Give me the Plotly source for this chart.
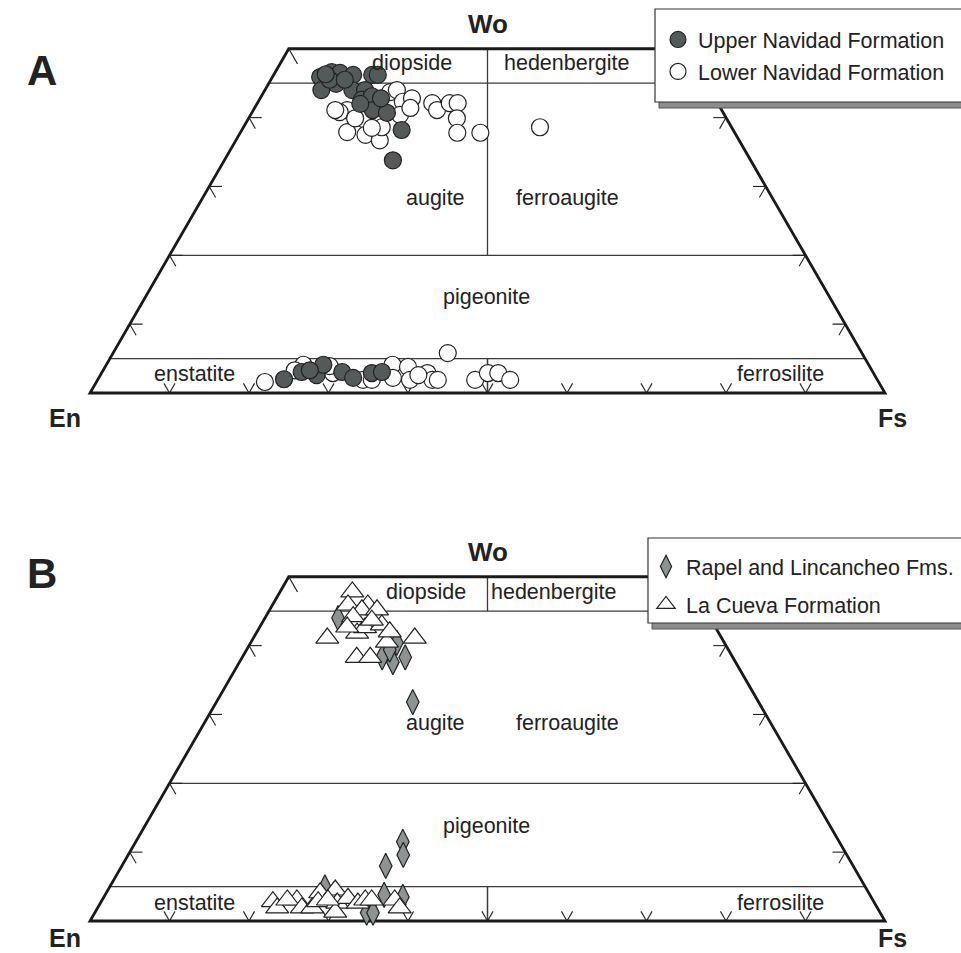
import math
import plotly.graph_objects as go

# ---------------------------------------------------------------------------
# Pyroxene compositions in mol% : Wo and Fs (En = 100 - Wo - Fs)
# ---------------------------------------------------------------------------
# A - Navidad Formation
upper_wo = [45.9, 46.6, 46.5, 44.0, 44.9, 45.5, 46.2, 44.0, 46.2, 46.2, 44.0,
            42.6, 43.1, 41.1, 40.7, 38.2, 33.8, 45.5, 42.0, 42.8, 46.3,
            2.0, 3.05, 2.6, 4.1, 3.05, 2.2, 2.9, 3.05, 3.3]
upper_fs = [6.0, 7.1, 8.2, 7.1, 8.5, 7.4, 10.0, 11.0, 12.4, 13.1, 12.6,
            12.9, 13.9, 15.0, 17.0, 20.1, 21.2, 9.3, 13.0, 15.2, 6.5,
            23.4, 25.1, 27.2, 27.3, 30.2, 32.0, 34.0, 35.2, 26.0]

lower_wo = [41.1, 40.8, 37.9, 39.7, 37.5, 36.7, 38.6, 43.7, 44.0, 42.3, 42.8,
            42.1, 41.1, 42.1, 42.1, 39.9, 37.8, 37.8, 38.6, 41.1, 40.4, 39.9,
            38.5, 41.4,
            1.6, 4.1, 2.9, 1.9, 4.1, 2.2, 3.8, 1.9, 2.9, 1.9, 1.9, 5.8, 1.9,
            2.9, 2.9, 1.9, 3.3, 3.9, 1.9, 2.6]
lower_fs = [11.8, 11.0, 13.4, 14.7, 15.9, 18.1, 17.4, 15.9, 16.6, 18.2, 19.1,
            22.0, 23.1, 24.2, 25.2, 26.2, 27.3, 30.2, 37.3, 10.3, 18.8, 13.4,
            16.2, 19.6,
            21.2, 24.8, 29.1, 33.4, 36.0, 37.0, 38.1, 39.3, 41.0, 42.1, 42.8,
            42.1, 47.5, 48.6, 49.9, 51.9, 24.1, 28.2, 34.5, 40.0]

# B - Rapel / Lincancheo and La Cueva formations
rapel_wo = [44.0, 40.4, 38.3, 37.6, 38.3, 31.8, 39.4,
            11.5, 9.6, 8.0, 3.8, 3.5, 4.9, 1.2, 1.2]
rapel_fs = [9.2, 18.4, 17.6, 19.3, 20.5, 24.7, 18.0,
            33.6, 34.6, 33.2, 35.1, 37.6, 27.1, 34.2, 35.0]

cueva_wo = [47.8, 45.9, 45.9, 45.2, 45.2, 41.1, 41.8, 42.6, 43.0, 40.5, 41.1,
            38.3, 38.3, 44.2, 42.7, 43.7, 42.0,
            2.8, 1.9, 3.05, 3.05, 1.9, 1.9, 4.1, 2.8, 4.5, 2.6, 1.3, 3.3, 2.6,
            3.05, 3.05, 3.05, 1.9, 3.05]
cueva_fs = [9.1, 12.0, 9.5, 11.6, 13.5, 9.3, 12.7, 13.3, 15.2, 17.1, 20.3,
            14.4, 16.1, 11.0, 11.0, 13.6, 16.7,
            21.6, 22.6, 24.5, 23.3, 25.7, 27.0, 26.9, 27.3, 28.6, 29.8, 30.2,
            30.8, 32.4, 33.1, 33.9, 36.8, 38.0, 28.4]

# Field boundaries (Wo %) and tick positions
field_wo = [5, 20, 45]
tick_fs = [10, 20, 30, 40, 50, 60, 70, 80, 90]
tick_wo = [10, 20, 30, 40]

FONT = "Liberation Sans"
INK = "#222222"
H = math.sqrt(3) / 2


def to_xy(wo, fs):
    """Wo-En-Fs composition -> cartesian position in the En-Fs-Wo triangle."""
    return [f + w / 2 for w, f in zip(wo, fs)], [w * H for w in wo]


def diagram_shapes(xr, yr, divider_from):
    top = 50 * H
    shapes = []
    line = lambda x0, y0, x1, y1, w, c=INK: dict(
        type="line", xref=xr, yref=yr, x0=x0, y0=y0, x1=x1, y1=y1,
        line=dict(color=c, width=w), layer="below")
    # inner field boundaries
    for wo in field_wo:
        shapes.append(line(wo / 2, wo * H, 100 - wo / 2, wo * H, 1.3, "#3a3a3a"))
    shapes.append(line(50, divider_from * H, 50, top, 1.3, "#3a3a3a"))
    shapes.append(line(50, 0, 50, 5 * H, 1.5, "#3a3a3a"))
    # tick marks
    tb, ts = 1.4, 1.6
    for f in tick_fs:
        shapes.append(line(f, 0, f - 0.5 * tb, H * tb, 1.1))
        shapes.append(line(f, 0, f + 0.5 * tb, H * tb, 1.1))
    for wo in tick_wo:
        xl, xr_ = wo / 2, 100 - wo / 2
        y = wo * H
        shapes.append(line(xl, y, xl + ts, y, 1.1))
        shapes.append(line(xl, y, xl + 0.5 * ts, y - H * ts, 1.1))
        shapes.append(line(xr_, y, xr_ - ts, y, 1.1))
        shapes.append(line(xr_, y, xr_ - 0.5 * ts, y - H * ts, 1.1))
    tc = 2.2
    shapes.append(line(25, top, 25 + 0.5 * tc, top - H * tc, 1.1))
    shapes.append(line(75, top, 75 - 0.5 * tc, top - H * tc, 1.1))
    # outline of the quadrilateral
    shapes.append(dict(type="path", xref=xr, yref=yr,
                       path=f"M 0,0 L 100,0 L 75,{top} L 25,{top} Z",
                       line=dict(color="#1a1a1a", width=2.8), layer="below"))
    return shapes


def field_labels(xr, yr, pos):
    out = []
    for text, (x, y) in pos.items():
        out.append(dict(text=text, x=x, y=y, xref=xr, yref=yr, showarrow=False,
                        font=dict(family=FONT, size=21.5, color=INK)))
    return out


fig = go.Figure()

ux, uy = to_xy(upper_wo, upper_fs)
lx, ly = to_xy(lower_wo, lower_fs)
rx, ry = to_xy(rapel_wo, rapel_fs)
cx, cy = to_xy(cueva_wo, cueva_fs)

fig.add_trace(go.Scatter(
    x=lx, y=ly, mode="markers", name="Lower Navidad Formation",
    xaxis="x", yaxis="y", legend="legend", legendgroup="l", legendrank=2,
    marker=dict(symbol="circle", size=17, color="white",
                line=dict(color=INK, width=1.2))))
fig.add_trace(go.Scatter(
    x=ux, y=uy, mode="markers", name="Upper Navidad Formation",
    xaxis="x", yaxis="y", legend="legend", legendgroup="u", legendrank=1,
    marker=dict(symbol="circle", size=17, color="#545a5a",
                line=dict(color=INK, width=1.2))))
fig.add_trace(go.Scatter(
    x=rx, y=ry, mode="markers", name="Rapel and Lincancheo Fms.",
    xaxis="x2", yaxis="y2", legend="legend2", legendgroup="r", legendrank=1,
    marker=dict(symbol="diamond-tall", size=18, color="#8d9393",
                line=dict(color=INK, width=1.2))))
fig.add_trace(go.Scatter(
    x=cx, y=cy, mode="markers", name="La Cueva Formation",
    xaxis="x2", yaxis="y2", legend="legend2", legendgroup="c", legendrank=2,
    marker=dict(symbol="triangle-up", size=20, color="white",
                line=dict(color=INK, width=1.2))))

shapes = diagram_shapes("x", "y", 20) + diagram_shapes("x2", "y2", 45)

# legend frames with drop shadow (pixel placement converted to paper units)
W, HT = 961, 953
px = lambda v: v / W
py = lambda v: 1 - v / HT
for (l, t, b) in [(655, 9, 102), (648, 538, 623)]:
    shapes.append(dict(type="rect", xref="paper", yref="paper",
                       x0=px(l + 4), x1=px(W + 5), y0=py(t + 6), y1=py(b + 6),
                       fillcolor="#8c8c8c", line=dict(color="#555", width=1),
                       layer="above"))
    shapes.append(dict(type="rect", xref="paper", yref="paper",
                       x0=px(l), x1=px(W + 2), y0=py(t), y1=py(b),
                       fillcolor="white", line=dict(color="#333", width=1.2),
                       layer="above"))

labels_a = {"diopside": (40.5, 41.5), "hedenbergite": (60.0, 41.5),
            "augite": (43.5, 24.5), "ferroaugite": (60.0, 24.5),
            "pigeonite": (49.9, 12.1), "enstatite": (13.2, 2.4),
            "ferrosilite": (86.8, 2.4)}
labels_b = {"diopside": (42.3, 41.4), "hedenbergite": (58.4, 41.4),
            "augite": (43.5, 24.9), "ferroaugite": (60.0, 24.9),
            "pigeonite": (49.9, 12.0), "enstatite": (13.2, 2.3),
            "ferrosilite": (86.8, 2.3)}

annotations = field_labels("x", "y", labels_a) + field_labels("x2", "y2", labels_b)
bold = lambda s: dict(family=FONT, size=s, color=INK, weight="bold")
for xr, yr in [("x", "y"), ("x2", "y2")]:
    annotations.append(dict(text="Wo", x=50, y=46.4, xref=xr, yref=yr,
                            showarrow=False, font=bold(26)))
# end-member labels below the base corners
corner_pos = [("x", "y", -3.2, "middle"), ("x2", "paper", 0, "bottom")]
for xr, yr, yc, anchor in corner_pos:
    for text, xc in [("En", -3.1), ("Fs", 101.0)]:
        annotations.append(dict(text=text, x=xc, y=yc, xref=xr, yref=yr,
                                yanchor=anchor, borderpad=0, showarrow=False,
                                font=bold(25)))
annotations.append(dict(text="A", x=px(25), y=py(45), xref="paper", yref="paper",
                        showarrow=False, font=bold(42)))
annotations.append(dict(text="B", x=px(25), y=py(573), xref="paper",
                        yref="paper", showarrow=False, font=bold(42)))

SCALE = 7.95  # px per composition unit
xr_ = [-90 / SCALE, (W - 90) / SCALE]
hidden = dict(visible=False, showgrid=False, zeroline=False, fixedrange=True)

legend_style = dict(xanchor="left", yanchor="top", bgcolor="rgba(0,0,0,0)",
                    borderwidth=0, font=dict(family=FONT, size=21.5, color=INK),
                    itemsizing="trace")
fig.update_layout(
    width=W, height=HT, margin=dict(l=0, r=0, t=0, b=0),
    paper_bgcolor="white", plot_bgcolor="rgba(0,0,0,0)",
    xaxis=dict(domain=[0, 1], range=xr_, anchor="y", **hidden),
    yaxis=dict(domain=[0.5, 1], anchor="x",
               range=[-(476.5 - 393) / SCALE, 393 / SCALE], **hidden),
    xaxis2=dict(domain=[0, 1], range=xr_, anchor="y2", **hidden),
    yaxis2=dict(domain=[0, 0.5], anchor="x2",
                range=[-(HT - 921) / SCALE, (921 - 476.5) / SCALE], **hidden),
    shapes=shapes, annotations=annotations,
    showlegend=True,
    legend=dict(x=px(658), y=py(19), tracegroupgap=1, **legend_style),
    legend2=dict(x=px(646), y=py(546), tracegroupgap=7, **legend_style),
)

fig.write_html("out.html")
